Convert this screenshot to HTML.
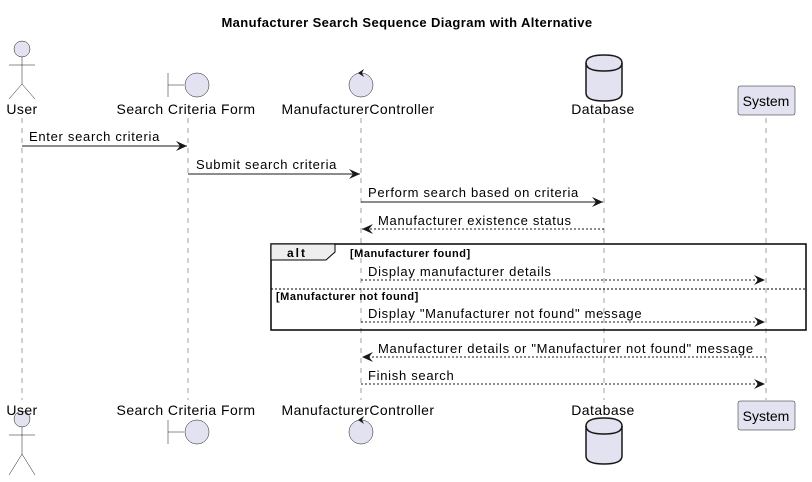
<!DOCTYPE html>
<html><head><meta charset="utf-8"><style>body{margin:0;background:#fff}svg{display:block}</style></head><body>
<svg width="812" height="482" xmlns="http://www.w3.org/2000/svg" font-family="Liberation Sans, sans-serif">
<defs>
<marker id="a" markerWidth="12" markerHeight="10" refX="11" refY="5" orient="auto" markerUnits="userSpaceOnUse"><path d="M0,0 L11,5 L0,10 L4,5 Z" fill="#181818"/></marker>
</defs>
<rect width="812" height="482" fill="#fff"/>
<text x="407" y="27" text-anchor="middle" font-weight="bold" font-size="13" letter-spacing="0.4">Manufacturer Search Sequence Diagram with Alternative</text>
<g stroke="#a0a0a0" stroke-dasharray="5,5" stroke-width="1">
<line x1="22" y1="118" x2="22" y2="400"/><line x1="188" y1="118" x2="188" y2="400"/><line x1="361" y1="118" x2="361" y2="400"/><line x1="604" y1="118" x2="604" y2="400"/><line x1="766" y1="118" x2="766" y2="400"/>
</g>
<g fill="#e2e2f0" stroke="#181818" stroke-width="0.5">
<circle cx="22" cy="49" r="8"/>
</g>
<g stroke="#181818" stroke-width="0.5" fill="none"><line x1="22" y1="57" x2="22" y2="84"/><line x1="9" y1="65" x2="35" y2="65"/><line x1="22" y1="84" x2="9" y2="99"/><line x1="22" y1="84" x2="35" y2="99"/></g>
<g fill="#e2e2f0" stroke="#181818" stroke-width="0.5">
<circle cx="22" cy="419" r="8"/>
</g>
<g stroke="#181818" stroke-width="0.5" fill="none"><line x1="22" y1="427" x2="22" y2="454"/><line x1="9" y1="435" x2="35" y2="435"/><line x1="22" y1="454" x2="9" y2="475"/><line x1="22" y1="454" x2="35" y2="475"/></g>
<g font-size="14" letter-spacing="0.45" text-anchor="middle">
<text x="22" y="114">User</text>
<text x="22" y="415">User</text>
<text x="186" y="114">Search Criteria Form</text>
<text x="186" y="415">Search Criteria Form</text>
<text x="358" y="114">ManufacturerController</text>
<text x="358" y="415">ManufacturerController</text>
<text x="603" y="114">Database</text>
<text x="603" y="415">Database</text>
<text x="766" y="106" letter-spacing="0">System</text>
<text x="766" y="421" letter-spacing="0">System</text>
</g>
<g stroke="#181818" stroke-width="0.5"><line x1="168" y1="73" x2="168" y2="97"/><line x1="168" y1="85" x2="184" y2="85"/><circle cx="197" cy="85" r="12" fill="#e2e2f0"/>
<line x1="168" y1="420" x2="168" y2="444"/><line x1="168" y1="432" x2="184" y2="432"/><circle cx="197" cy="432" r="12" fill="#e2e2f0"/></g>
<g stroke="#181818" stroke-width="0.5"><circle cx="361" cy="85" r="12" fill="#e2e2f0"/><circle cx="361" cy="432" r="12" fill="#e2e2f0"/></g>
<path d="M364,69 L358,73 L364,77 L362,73 Z" fill="#181818"/><path d="M364,416 L358,420 L364,424 L362,420 Z" fill="#181818"/>
<g stroke="#181818" stroke-width="1.5" fill="#e2e2f0">
<path d="M586,63 Q586,55 604,55 Q622,55 622,63 L622,93 Q622,101 604,101 Q586,101 586,93 Z"/><path d="M586,63 Q586,71 604,71 Q622,71 622,63" fill="none"/>
<path d="M586,426 Q586,418 604,418 Q622,418 622,426 L622,456 Q622,464 604,464 Q586,464 586,456 Z"/><path d="M586,426 Q586,434 604,434 Q622,434 622,426" fill="none"/>
</g>
<rect x="738" y="86" width="57" height="29" rx="2" fill="#e2e2f0" stroke="#181818" stroke-width="0.5"/>
<rect x="738" y="401" width="57" height="29" rx="2" fill="#e2e2f0" stroke="#181818" stroke-width="0.5"/>
<text x="766" y="106" text-anchor="middle" font-size="14">System</text>
<text x="766" y="421" text-anchor="middle" font-size="14">System</text>
<g font-size="13" letter-spacing="0.7" fill="#000">
<line x1="22" y1="146" x2="187" y2="146" stroke="#181818" marker-end="url(#a)"/>
<text x="29" y="141">Enter search criteria</text>
<line x1="188" y1="174" x2="360" y2="174" stroke="#181818" marker-end="url(#a)"/>
<text x="196" y="169">Submit search criteria</text>
<line x1="361" y1="202" x2="603" y2="202" stroke="#181818" marker-end="url(#a)"/>
<text x="368" y="197">Perform search based on criteria</text>
<line x1="604" y1="229" x2="362" y2="229" stroke="#181818" stroke-dasharray="2,2" marker-end="url(#a)"/>
<text x="378" y="225">Manufacturer existence status</text>
<rect x="271" y="244" width="535" height="86" fill="none" stroke="#000" stroke-width="1.5"/>
<path d="M271,244 L335,244 L335,252 L326,260 L271,260 Z" fill="#eee" stroke="#000" stroke-width="1"/>
<text x="287" y="257" font-weight="bold" font-size="12" letter-spacing="2">alt</text>
<text x="350" y="257" font-weight="bold" font-size="11" letter-spacing="0.5">[Manufacturer found]</text>
<line x1="361" y1="280" x2="765" y2="280" stroke="#181818" stroke-dasharray="2,2" marker-end="url(#a)"/>
<text x="368" y="276">Display manufacturer details</text>
<line x1="271" y1="289" x2="806" y2="289" stroke="#000" stroke-dasharray="2,2"/>
<text x="276" y="300" font-weight="bold" font-size="11" letter-spacing="0.5">[Manufacturer not found]</text>
<line x1="361" y1="322" x2="765" y2="322" stroke="#181818" stroke-dasharray="2,2" marker-end="url(#a)"/>
<text x="368" y="318">Display "Manufacturer not found" message</text>
<line x1="766" y1="357" x2="362" y2="357" stroke="#181818" stroke-dasharray="2,2" marker-end="url(#a)"/>
<text x="378" y="353">Manufacturer details or "Manufacturer not found" message</text>
<line x1="361" y1="384" x2="765" y2="384" stroke="#181818" stroke-dasharray="2,2" marker-end="url(#a)"/>
<text x="368" y="380">Finish search</text>
</g>
</svg>
</body></html>
